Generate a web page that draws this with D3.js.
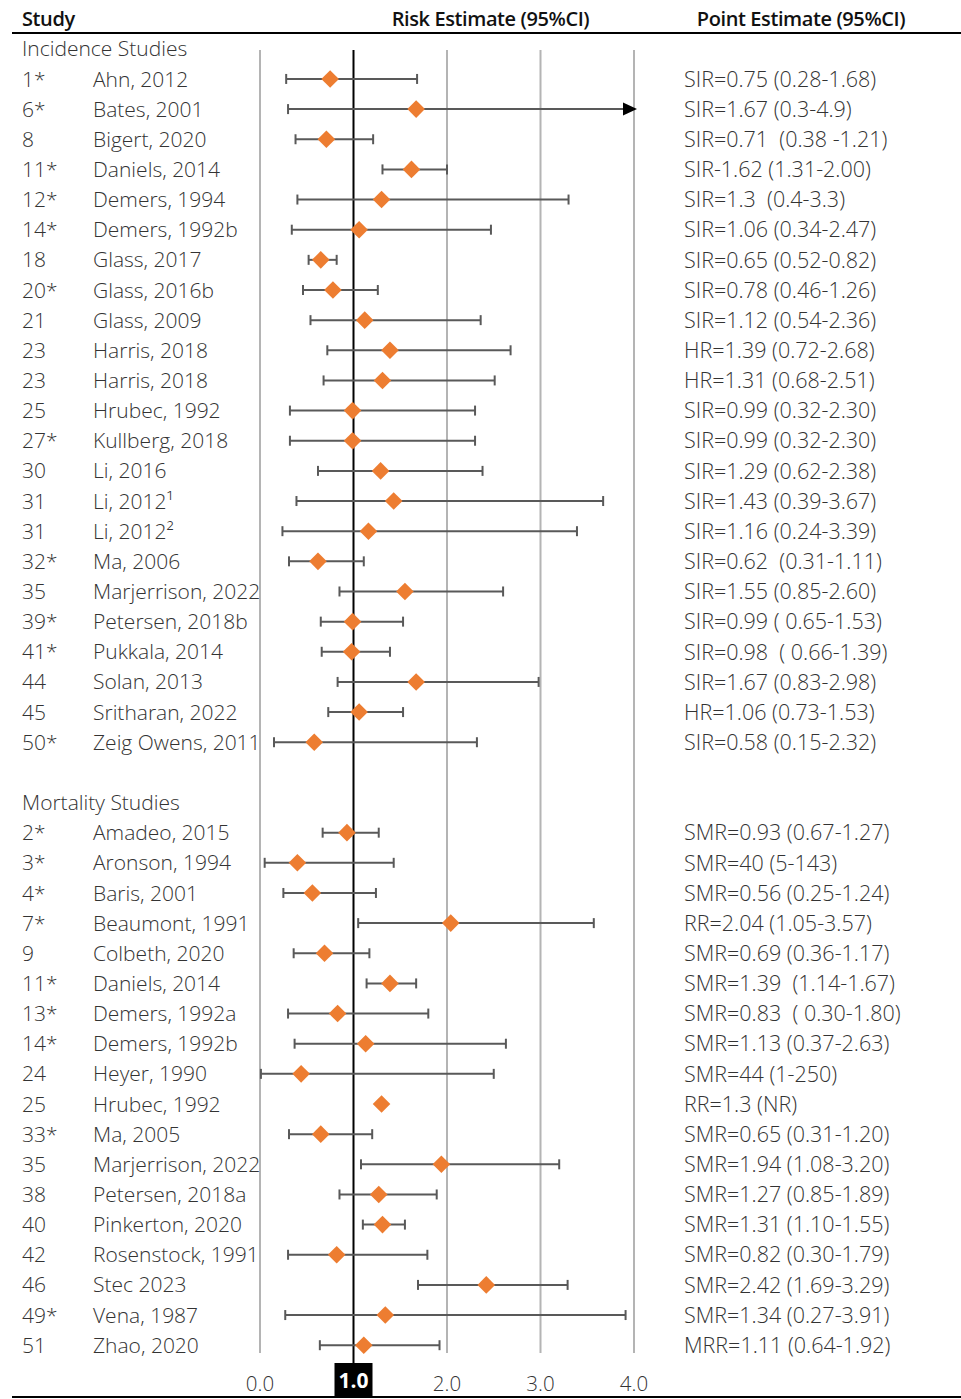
<!DOCTYPE html>
<html>
<head>
<meta charset="utf-8">
<script src="https://cdn.jsdelivr.net/npm/d3@7"></script>
<style>
  html, body { margin: 0; padding: 0; background: #fff; }
  svg { display: block; }
  text { font-family: "Open Sans", "Noto Sans", sans-serif; white-space: pre; }
</style>
</head>
<body>
<svg id="chart" width="961" height="1399"></svg>
<script>
// ---------- DATA ----------
const incIds = ["1*","6*","8","11*","12*","14*","18","20*","21","23","23","25","27*","30","31","31","32*","35","39*","41*","44","45","50*"];
const incNames = ["Ahn, 2012","Bates, 2001","Bigert, 2020","Daniels, 2014","Demers, 1994","Demers, 1992b","Glass, 2017","Glass, 2016b","Glass, 2009","Harris, 2018","Harris, 2018","Hrubec, 1992","Kullberg, 2018","Li, 2016","Li, 2012\u00B9","Li, 2012\u00B2","Ma, 2006","Marjerrison, 2022","Petersen, 2018b","Pukkala, 2014","Solan, 2013","Sritharan, 2022","Zeig Owens, 2011"];
const incEst = [0.75,1.67,0.71,1.62,1.3,1.06,0.65,0.78,1.12,1.39,1.31,0.99,0.99,1.29,1.43,1.16,0.62,1.55,0.99,0.98,1.67,1.06,0.58];
const incLo  = [0.28,0.3,0.38,1.31,0.4,0.34,0.52,0.46,0.54,0.72,0.68,0.32,0.32,0.62,0.39,0.24,0.31,0.85,0.65,0.66,0.83,0.73,0.15];
const incHi  = [1.68,4.9,1.21,2.00,3.3,2.47,0.82,1.26,2.36,2.68,2.51,2.30,2.30,2.38,3.67,3.39,1.11,2.60,1.53,1.39,2.98,1.53,2.32];
const incLabels = ["SIR=0.75 (0.28-1.68)","SIR=1.67 (0.3-4.9)","SIR=0.71  (0.38 -1.21)","SIR-1.62 (1.31-2.00)","SIR=1.3  (0.4-3.3)","SIR=1.06 (0.34-2.47)","SIR=0.65 (0.52-0.82)","SIR=0.78 (0.46-1.26)","SIR=1.12 (0.54-2.36)","HR=1.39 (0.72-2.68)","HR=1.31 (0.68-2.51)","SIR=0.99 (0.32-2.30)","SIR=0.99 (0.32-2.30)","SIR=1.29 (0.62-2.38)","SIR=1.43 (0.39-3.67)","SIR=1.16 (0.24-3.39)","SIR=0.62  (0.31-1.11)","SIR=1.55 (0.85-2.60)","SIR=0.99 ( 0.65-1.53)","SIR=0.98  ( 0.66-1.39)","SIR=1.67 (0.83-2.98)","HR=1.06 (0.73-1.53)","SIR=0.58 (0.15-2.32)"];

const morIds = ["2*","3*","4*","7*","9","11*","13*","14*","24","25","33*","35","38","40","42","46","49*","51"];
const morNames = ["Amadeo, 2015","Aronson, 1994","Baris, 2001","Beaumont, 1991","Colbeth, 2020","Daniels, 2014","Demers, 1992a","Demers, 1992b","Heyer, 1990","Hrubec, 1992","Ma, 2005","Marjerrison, 2022","Petersen, 2018a","Pinkerton, 2020","Rosenstock, 1991","Stec 2023","Vena, 1987","Zhao, 2020"];
const morEst = [0.93,0.40,0.56,2.04,0.69,1.39,0.83,1.13,0.44,1.3,0.65,1.94,1.27,1.31,0.82,2.42,1.34,1.11];
const morLo  = [0.67,0.05,0.25,1.05,0.36,1.14,0.30,0.37,0.01,null,0.31,1.08,0.85,1.10,0.30,1.69,0.27,0.64];
const morHi  = [1.27,1.43,1.24,3.57,1.17,1.67,1.80,2.63,2.50,null,1.20,3.20,1.89,1.55,1.79,3.29,3.91,1.92];
const morLabels = ["SMR=0.93 (0.67-1.27)","SMR=40 (5-143)","SMR=0.56 (0.25-1.24)","RR=2.04 (1.05-3.57)","SMR=0.69 (0.36-1.17)","SMR=1.39  (1.14-1.67)","SMR=0.83  ( 0.30-1.80)","SMR=1.13 (0.37-2.63)","SMR=44 (1-250)","RR=1.3 (NR)","SMR=0.65 (0.31-1.20)","SMR=1.94 (1.08-3.20)","SMR=1.27 (0.85-1.89)","SMR=1.31 (1.10-1.55)","SMR=0.82 (0.30-1.79)","SMR=2.42 (1.69-3.29)","SMR=1.34 (0.27-3.91)","MRR=1.11 (0.64-1.92)"];

const groupTitles = ["Incidence Studies", "Mortality Studies"];
const headerLabels = ["Study", "Risk Estimate (95%CI)", "Point Estimate (95%CI)"];
const xTicks = [0, 1, 2, 3, 4];
const xTickLabels = ["0.0", "1.0", "2.0", "3.0", "4.0"];
const nullValue = 1;

// ---------- BUILD ROWS ----------
const rows = [];
rows.push({type: "group", title: groupTitles[0]});
incIds.forEach((id, i) => rows.push({type: "study", id, name: incNames[i], est: incEst[i], lo: incLo[i], hi: incHi[i], label: incLabels[i]}));
rows.push({type: "blank"});
rows.push({type: "group", title: groupTitles[1]});
morIds.forEach((id, i) => rows.push({type: "study", id, name: morNames[i], est: morEst[i], lo: morLo[i], hi: morHi[i], label: morLabels[i]}));
rows.forEach((r, i) => r.idx = i);
const studies = rows.filter(r => r.type === "study");

// ---------- SCALES ----------
const x = d3.scaleLinear().domain([0, 4]).range([260, 634]);
const y = d3.scaleLinear().domain([0, rows.length - 1]).range([48.8, 1345.2]);

const svg = d3.select("#chart");
const FS = 21;
const textCol = "#333333";
const gridTop = 50, gridBottom = 1353, nullBottom = 1363;

// header
svg.append("line").attr("x1", 12).attr("x2", 961).attr("y1", 33).attr("y2", 33)
  .attr("stroke", "#000").attr("stroke-width", 2);
svg.append("line").attr("x1", 12).attr("x2", 961).attr("y1", 1397).attr("y2", 1397)
  .attr("stroke", "#000").attr("stroke-width", 2);

const hdr = svg.append("g").attr("font-size", 20).attr("font-weight", 600).attr("fill", "#111").attr("letter-spacing", "-0.4");
hdr.append("text").attr("x", 22).attr("y", 26).text(headerLabels[0]);
hdr.append("text").attr("x", 490.5).attr("y", 26).attr("text-anchor", "middle").text(headerLabels[1]);
hdr.append("text").attr("x", 801).attr("y", 26).attr("text-anchor", "middle").text(headerLabels[2]);

// gridlines
svg.append("g").selectAll("line").data(xTicks.filter(t => t !== nullValue)).join("line")
  .attr("x1", d => x(d)).attr("x2", d => x(d))
  .attr("y1", gridTop).attr("y2", gridBottom)
  .attr("stroke", "#b4b4b4").attr("stroke-width", 2);

// left text
const left = svg.append("g").attr("font-size", FS).attr("font-weight", 300).attr("fill", textCol);
left.selectAll("text.grp").data(rows.filter(r => r.type === "group")).join("text")
  .attr("class", "grp").attr("x", 22).attr("y", r => y(r.idx)).attr("dy", "0.36em").text(r => r.title);
left.selectAll("text.id").data(studies).join("text")
  .attr("class", "id").attr("x", 22).attr("y", r => y(r.idx)).attr("dy", "0.36em").text(r => r.id);
left.selectAll("text.nm").data(studies).join("text")
  .attr("class", "nm").attr("x", 93).attr("y", r => y(r.idx)).attr("dy", "0.36em").text(r => r.name);

// right text
svg.append("g").attr("font-size", 21.5).attr("font-weight", 300).attr("fill", textCol)
  .selectAll("text").data(studies).join("text")
  .attr("x", 684).attr("y", r => y(r.idx)).attr("dy", "0.36em").text(r => r.label);

// null line
svg.append("line").attr("x1", x(nullValue)).attr("x2", x(nullValue))
  .attr("y1", gridTop).attr("y2", nullBottom).attr("stroke", "#000").attr("stroke-width", 2);

// error bars
const [dMin, dMax] = x.domain();
const ci = svg.append("g").attr("stroke", "#595959").attr("stroke-width", 2);
const withCI = studies.filter(r => r.lo != null);
ci.selectAll("line.bar").data(withCI).join("line").attr("class", "bar")
  .attr("x1", r => x(r.lo)).attr("x2", r => x(Math.min(r.hi, dMax)))
  .attr("y1", r => y(r.idx)).attr("y2", r => y(r.idx));
ci.selectAll("line.capl").data(withCI).join("line").attr("class", "capl")
  .attr("x1", r => x(r.lo)).attr("x2", r => x(r.lo))
  .attr("y1", r => y(r.idx) - 5).attr("y2", r => y(r.idx) + 5);
ci.selectAll("line.caph").data(withCI.filter(r => r.hi <= dMax)).join("line").attr("class", "caph")
  .attr("x1", r => x(r.hi)).attr("x2", r => x(r.hi))
  .attr("y1", r => y(r.idx) - 5).attr("y2", r => y(r.idx) + 5);
// arrows for CIs beyond the axis
svg.append("g").selectAll("path").data(withCI.filter(r => r.hi > dMax)).join("path")
  .attr("d", r => { const tx = x(dMax) + 3, ty = y(r.idx); return `M${tx},${ty} L${tx - 14},${ty - 6.5} L${tx - 14},${ty + 6.5} Z`; })
  .attr("fill", "#000");

// diamonds
svg.append("g").selectAll("path").data(studies).join("path")
  .attr("transform", r => `translate(${x(r.est)},${y(r.idx)})`)
  .attr("d", "M0,-8.8 L8.8,0 L0,8.8 L-8.8,0 Z")
  .attr("fill", "#ED7D31");

// x tick labels
const ticks = svg.append("g").attr("font-size", 20);
ticks.selectAll("rect").data(xTicks.filter(t => t === nullValue)).join("rect")
  .attr("x", d => x(d) - 19).attr("y", 1363).attr("width", 38).attr("height", 34).attr("fill", "#000");
ticks.selectAll("text").data(xTicks).join("text")
  .attr("x", d => x(d)).attr("y", d => d === nullValue ? 1388 : 1391)
  .attr("text-anchor", "middle")
  .attr("fill", d => d === nullValue ? "#fff" : textCol)
  .attr("font-weight", d => d === nullValue ? 700 : 300)
  .attr("font-size", d => d === nullValue ? 21 : 20.5)
  .text((d, i) => xTickLabels[i]);
</script>
</body>
</html>
